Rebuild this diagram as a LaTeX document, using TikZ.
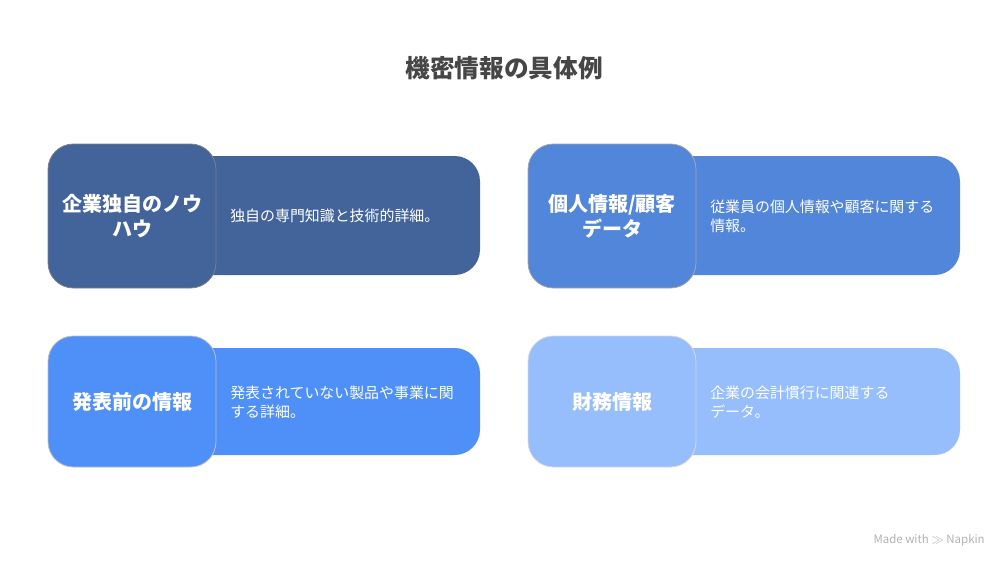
\documentclass[tikz,border=0pt]{standalone}
\usepackage{fontspec}
\setmainfont{Noto Sans CJK JP}
\usepackage{tikz}
\usetikzlibrary{positioning}

\definecolor{knowhow}{HTML}{43649A}
\definecolor{personal}{HTML}{5286DA}
\definecolor{unreleased}{HTML}{4E8FF8}
\definecolor{finance}{HTML}{96BDFC}
\definecolor{titlegray}{HTML}{464646}

\tikzset{
  headbox/.style={draw, line width=0.6pt, rounded corners=19pt, minimum width=126pt, minimum height=#1, text width=118pt, align=center, font=\bfseries\fontsize{15}{18.75}\selectfont, text=white},
  bodybox/.style={rounded corners=19pt, minimum width=232.5pt, minimum height=#1},
  bodytext/.style={anchor=west, align=left, text=white, font=\fontsize{11.2}{14.25}\selectfont, inner sep=0pt}
}

\begin{document}
\begin{tikzpicture}[x=0.75pt, y=-0.75pt]
  \useasboundingbox (0,0) rectangle (1008,568);
  \node[text=titlegray, font=\bfseries\fontsize{18.5}{22}\selectfont] (title) at (504,68) {機密情報の具体例};

  % top left
  \node[bodybox=89.25pt, fill=knowhow] (knowhowbody) at (325,215.5) {};
  \node[headbox=108pt, fill=knowhow, draw=gray] (knowhowhead) at (132,216) {企業独自のノウ\\ハウ};
  \node[bodytext] (knowhowtext) at (230,216) {独自の専門知識と技術的詳細。};

  % top right
  \node[bodybox=89.25pt, fill=personal] (personalbody) at (805,215.5) {};
  \node[headbox=108pt, fill=personal, draw=gray!70] (personalhead) at (612,216) {個人情報/顧客\\データ};
  \node[bodytext] (personaltext) at (710,216) {従業員の個人情報や顧客に関する\\情報。};

  % bottom left
  \node[bodybox=80.25pt, fill=unreleased] (unreleasedbody) at (325,401.5) {};
  \node[headbox=98.25pt, fill=unreleased, draw=gray!50] (unreleasedhead) at (132,401.5) {発表前の情報};
  \node[bodytext] (unreleasedtext) at (230,402) {発表されていない製品や事業に関\\する詳細。};

  % bottom right
  \node[bodybox=80.25pt, fill=finance] (financebody) at (805,401.5) {};
  \node[headbox=98.25pt, fill=finance, draw=gray!30] (financehead) at (612,401.5) {財務情報};
  \node[bodytext] (financetext) at (710,402) {企業の会計慣行に関連する\\データ。};

  \node[anchor=east, text=gray!60, font=\fontsize{8.6}{10}\selectfont, inner sep=0pt] (napkin) at (985,540) {Made with \(\gg\) Napkin};
\end{tikzpicture}
\end{document}
